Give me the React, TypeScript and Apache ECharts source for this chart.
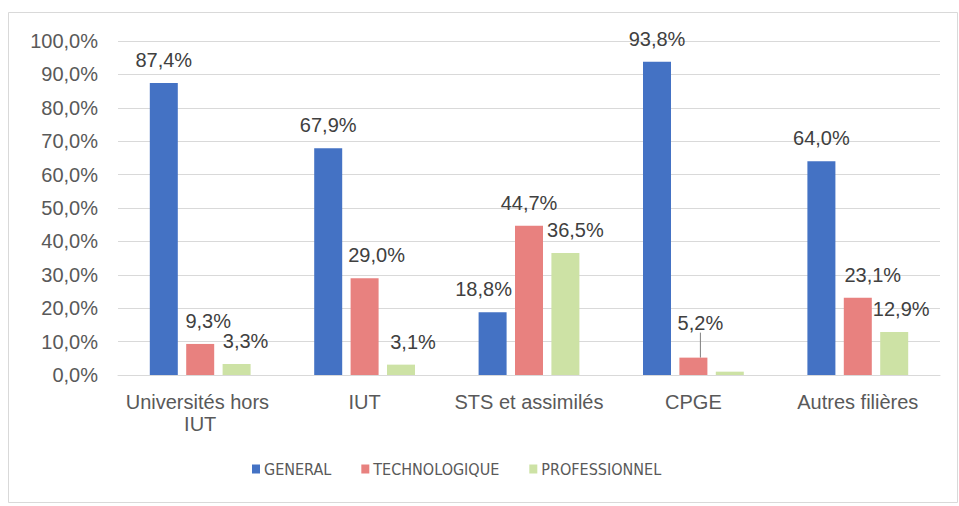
import React, { useEffect, useRef } from "react";
import * as echarts from "echarts";

const categories = ["Universités hors IUT", "IUT", "STS et assimilés", "CPGE", "Autres filières"];
const seriesNames = ["GENERAL", "TECHNOLOGIQUE", "PROFESSIONNEL"];
const general = [87.4, 67.9, 18.8, 93.8, 64.0];
const technologique = [9.3, 29.0, 44.7, 5.2, 23.1];
const professionnel = [3.3, 3.1, 36.5, 1.0, 12.9];
const yTicks = [0, 10, 20, 30, 40, 50, 60, 70, 80, 90, 100];

// label presentation (style, not data)
const colors = ["#4472C4", "#E8817F", "#CDE2A5"];
const labelDx = [
  [0, 0, -9, 0, 0],
  [8, 12, 0, 7, 15],
  [9, 12, 10, 0, 7],
];
const labelDy = [
  [0, 0, 0, 0, 0],
  [0, 0, 0, -12, 0],
  [0, 0, 0, 0, 0],
];
const hiddenLabels = [[], [], [3]];
const leaderLines = [[], [3], []];

const fmt = (v: number) => v.toFixed(1).replace(".", ",") + "%";

export default function App() {
  const ref = useRef<HTMLDivElement>(null);
  useEffect(() => {
    if (!ref.current) return;
    const chart = echarts.init(ref.current, null, { renderer: "svg" });
    const values = [general, technologique, professionnel];
    const font = "'Liberation Sans', Arial, sans-serif";
    chart.setOption({
      animation: false,
      backgroundColor: "#ffffff",
      textStyle: { fontFamily: font },
      graphic: [
        {
          type: "rect",
          shape: { x: 8.5, y: 12.5, width: 949, height: 490 },
          style: { fill: "none", stroke: "#d9d9d9", lineWidth: 1 },
          silent: true,
        },
      ],
      legend: {
        data: seriesNames,
        left: 247,
        top: 456,
        icon: "rect",
        itemWidth: 8,
        itemHeight: 9,
        itemGap: 30,
        textStyle: {
          fontFamily: "'Liberation Sans Narrow', 'DejaVu Sans Condensed', Arial, sans-serif",
          fontSize: 16,
          color: "#595959",
          padding: [0, 0, 0, -1],
        },
      },
      grid: { left: 118, right: 19, top: 41, bottom: 131 },
      xAxis: {
        type: "category",
        data: categories,
        axisLine: { lineStyle: { color: "#d9d9d9" } },
        axisTick: { show: false },
        axisLabel: {
          interval: 0,
          fontSize: 20,
          color: "#595959",
          margin: 16,
          lineHeight: 22,
          width: 160,
          overflow: "break",
        },
      },
      yAxis: {
        type: "value",
        min: yTicks[0],
        max: yTicks[yTicks.length - 1],
        interval: 10,
        axisLine: { show: false },
        axisTick: { show: false },
        splitLine: { lineStyle: { color: "#d9d9d9", width: 1 } },
        axisLabel: {
          fontSize: 20,
          color: "#595959",
          margin: 20,
          formatter: (v: number) => fmt(v),
        },
      },
      series: seriesNames.map((name, si) => ({
        name,
        type: "bar",
        barWidth: 28,
        barGap: "30%",
        itemStyle: { color: colors[si] },
        data: values[si].map((v, di) => {
          const item: any = { value: v };
          if (hiddenLabels[si].includes(di)) item.label = { show: false };
          if (leaderLines[si].includes(di))
            item.labelLine = { show: true, lineStyle: { color: "#7f7f7f", width: 1 } };
          return item;
        }),
        label: {
          show: true,
          position: "top",
          distance: 13,
          fontSize: 20,
          color: "#404040",
          formatter: (p: any) => fmt(p.value),
        },
        labelLine: { show: false },
        labelLayout: (p: any) => ({
          dx: labelDx[si][p.dataIndex],
          dy: labelDy[si][p.dataIndex],
        }),
      })),
    });
    return () => chart.dispose();
  }, []);
  return (
    <div
      ref={ref}
      style={{ position: "fixed", left: 0, top: 0, width: 959, height: 506 }}
    />
  );
}
